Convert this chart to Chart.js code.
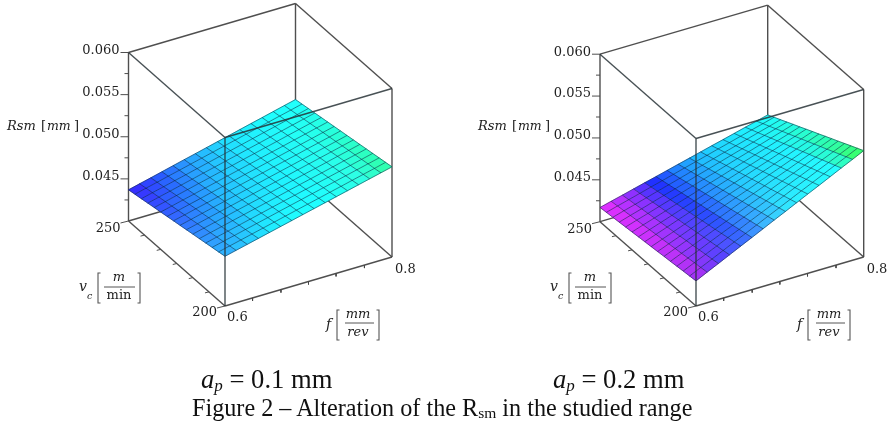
<!DOCTYPE html>
<html>
<head>
<meta charset="utf-8">
<title>Figure 2</title>
<script src="https://cdn.jsdelivr.net/npm/chart.js@4"></script>
<style>
    html, body { margin: 0; padding: 0; background: #fff; }
    #wrap { position: relative; width: 893px; height: 422px; overflow: hidden; }
    #plot { position: absolute; left: 0; top: 0; filter: blur(0.45px); }
    .cap { position: absolute; white-space: nowrap; color: #111; font-family: "Liberation Serif", serif; }
    .ap { font-size: 26.6px; top: 364px; }
    .ap sub { font-size: 17px; line-height: 0; vertical-align: -3px; }
    #figCap { font-size: 24.2px; top: 394px; left: 192px; }
    #figCap sub { font-size: 15.5px; line-height: 0; vertical-align: -2px; }
</style>
</head>
<body>
<div id="wrap">
    <canvas id="plot" width="893" height="422"></canvas>
    <div class="cap ap" style="left:201px"><i>a<sub>p</sub></i> = 0.1 mm</div>
    <div class="cap ap" style="left:553px"><i>a<sub>p</sub></i> = 0.2 mm</div>
    <div class="cap" id="figCap">Figure 2 – Alteration of the R<sub>sm</sub> in the studied range</div>
</div>
<script>
// axis ranges and ticks
const fRange = [0.6, 0.8];
const vcRange = [200, 250];
const zRange = [0.040, 0.060];
const zTicksMajor = [0.060, 0.055, 0.050, 0.045];
const zTicksMinor = [0.0575, 0.0525, 0.0475, 0.0425];
const zTickLabels = ['0.060', '0.055', '0.050', '0.045'];
const vcTicksMinor = [208.3, 216.7, 225, 233.3, 241.7];
const fTicksMinor = [0.633, 0.667, 0.7, 0.733, 0.767];

// mesh positions (f along a row, vc row by row)
const fGrid = [0.6, 0.6133, 0.6267, 0.64, 0.6533, 0.6667, 0.68, 0.6933, 0.7067, 0.72, 0.7333, 0.7467, 0.76, 0.7733, 0.7867, 0.8];
const vcGrid = [200, 203.33, 206.67, 210, 213.33, 216.67, 220, 223.33, 226.67, 230, 233.33, 236.67, 240, 243.33, 246.67, 250];

// Rsm read from the left surface, ap = 0.1 mm
const rsmLeft = [
    [.04590,.04622,.04654,.04686,.04718,.04750,.04782,.04814,.04846,.04878,.04910,.04942,.04974,.05006,.05038,.05070],
    [.04575,.04607,.04639,.04671,.04703,.04735,.04767,.04799,.04831,.04863,.04895,.04927,.04959,.04991,.05023,.05056],
    [.04561,.04593,.04625,.04657,.04689,.04721,.04754,.04786,.04818,.04850,.04882,.04914,.04946,.04978,.05010,.05042],
    [.04546,.04578,.04610,.04642,.04674,.04707,.04739,.04771,.04803,.04835,.04867,.04899,.04931,.04963,.04996,.05028],
    [.04531,.04563,.04595,.04628,.04660,.04692,.04724,.04756,.04789,.04821,.04853,.04885,.04917,.04950,.04982,.05014],
    [.04517,.04549,.04581,.04614,.04646,.04678,.04710,.04742,.04775,.04807,.04839,.04871,.04903,.04936,.04968,.05000],
    [.04502,.04534,.04567,.04599,.04631,.04663,.04696,.04728,.04760,.04792,.04825,.04857,.04889,.04921,.04954,.04986],
    [.04487,.04519,.04552,.04584,.04616,.04649,.04681,.04713,.04746,.04778,.04810,.04842,.04875,.04907,.04939,.04972],
    [.04473,.04505,.04538,.04570,.04602,.04635,.04667,.04699,.04732,.04764,.04796,.04828,.04861,.04893,.04925,.04958],
    [.04458,.04490,.04523,.04555,.04588,.04620,.04652,.04685,.04717,.04750,.04782,.04814,.04847,.04879,.04912,.04944],
    [.04443,.04475,.04508,.04540,.04573,.04605,.04638,.04670,.04703,.04735,.04768,.04800,.04833,.04865,.04898,.04930],
    [.04429,.04461,.04494,.04526,.04559,.04591,.04624,.04656,.04689,.04721,.04754,.04786,.04819,.04851,.04884,.04916],
    [.04414,.04447,.04479,.04512,.04544,.04577,.04609,.04642,.04674,.04707,.04739,.04772,.04804,.04837,.04869,.04902],
    [.04399,.04432,.04464,.04497,.04529,.04562,.04595,.04627,.04660,.04692,.04725,.04758,.04790,.04823,.04855,.04888],
    [.04385,.04418,.04450,.04483,.04515,.04548,.04581,.04613,.04646,.04678,.04711,.04744,.04776,.04809,.04841,.04874],
    [.04370,.04403,.04435,.04468,.04501,.04534,.04566,.04599,.04632,.04664,.04697,.04730,.04762,.04795,.04828,.04860]
];

// Rsm read from the right surface, ap = 0.2 mm
const rsmRight = [
    [.04300,.04365,.04429,.04494,.04559,.04623,.04688,.04753,.04817,.04882,.04947,.05011,.05076,.05141,.05205,.05270],
    [.04291,.04354,.04416,.04479,.04542,.04604,.04667,.04730,.04792,.04855,.04918,.04980,.05043,.05106,.05168,.05231],
    [.04283,.04344,.04404,.04465,.04526,.04586,.04647,.04708,.04768,.04829,.04890,.04950,.05011,.05072,.05132,.05193],
    [.04274,.04333,.04391,.04450,.04509,.04567,.04626,.04685,.04743,.04802,.04861,.04919,.04978,.05037,.05095,.05154],
    [.04265,.04322,.04378,.04435,.04492,.04548,.04605,.04662,.04718,.04775,.04832,.04888,.04945,.05002,.05058,.05115],
    [.04257,.04312,.04366,.04421,.04476,.04530,.04585,.04640,.04694,.04749,.04804,.04858,.04913,.04968,.05022,.05077],
    [.04248,.04301,.04353,.04406,.04459,.04511,.04564,.04617,.04669,.04722,.04775,.04827,.04880,.04933,.04985,.05038],
    [.04239,.04290,.04340,.04391,.04442,.04492,.04543,.04594,.04644,.04695,.04746,.04796,.04847,.04898,.04948,.04999],
    [.04231,.04280,.04328,.04377,.04426,.04474,.04523,.04572,.04620,.04669,.04718,.04766,.04815,.04864,.04912,.04961],
    [.04222,.04269,.04315,.04362,.04409,.04455,.04502,.04549,.04595,.04642,.04689,.04735,.04782,.04829,.04875,.04922],
    [.04213,.04258,.04302,.04347,.04392,.04436,.04481,.04526,.04570,.04615,.04660,.04704,.04749,.04794,.04838,.04883],
    [.04205,.04248,.04290,.04333,.04376,.04418,.04461,.04504,.04546,.04589,.04632,.04674,.04717,.04760,.04802,.04845],
    [.04196,.04237,.04277,.04318,.04359,.04399,.04440,.04481,.04521,.04562,.04603,.04643,.04684,.04725,.04765,.04806],
    [.04187,.04226,.04264,.04303,.04342,.04380,.04419,.04458,.04496,.04535,.04574,.04612,.04651,.04690,.04728,.04767],
    [.04179,.04216,.04252,.04289,.04326,.04362,.04399,.04436,.04472,.04509,.04546,.04582,.04619,.04656,.04692,.04729],
    [.04170,.04205,.04239,.04274,.04309,.04343,.04378,.04413,.04447,.04482,.04517,.04551,.04586,.04621,.04655,.04690]
];

// surface colours sampled along f, on the vc=200 edge and on the vc=250 edge
const shadeStops = [0, 0.15, 0.3, 0.45, 0.6, 0.85, 1];
const leftFront = [[48,176,255], [40,208,255], [32,240,255], [32,255,255], [32,255,255], [48,255,224], [48,255,160]];
const leftBack = [[58,32,255], [42,80,255], [42,144,255], [37,192,255], [32,232,255], [32,255,255], [32,255,255]];
const rightFront = [[176,48,240], [80,64,255], [64,120,255], [64,200,255], [48,245,255], [40,255,255], [64,255,48]];
const rightBack = [[240,48,255], [160,48,255], [32,48,255], [32,140,255], [32,200,255], [32,240,255], [32,255,255]];

// 3D view of each panel: pixel position of the corner f=0.6, vc=200, z=0.04 and the axis vectors
const leftView = { ox: 225, oy: 306, fv: [167, -49], vv: [-96.5, -85], zv: [0, -168.5], mix: 1 };
const rightView = { ox: 696, oy: 306, fv: [167.7, -49], vv: [-96, -84.3], zv: [0, -167.5], mix: 0.6 };

function project(view, f, vc, z) {
    const a = (f - fRange[0]) / (fRange[1] - fRange[0]);
    const b = (vc - vcRange[0]) / (vcRange[1] - vcRange[0]);
    const c = (z - zRange[0]) / (zRange[1] - zRange[0]);
    return {
        x: view.ox + a * view.fv[0] + b * view.vv[0],
        y: view.oy + a * view.fv[1] + b * view.vv[1] + c * view.zv[1]
    };
}

function sampleStops(colors, a) {
    let k = 0;
    while (k < shadeStops.length - 2 && a > shadeStops[k + 1]) k++;
    const t = (a - shadeStops[k]) / (shadeStops[k + 1] - shadeStops[k]);
    return colors[k].map((v, n) => v + t * (colors[k + 1][n] - v));
}

// colour of a cell from its place on the surface
function colorFor(front, back, f, vc, mix) {
    const a = (f - fRange[0]) / (fRange[1] - fRange[0]);
    const b = Math.pow((vc - vcRange[0]) / (vcRange[1] - vcRange[0]), mix);
    const c0 = sampleStops(front, a);
    const c1 = sampleStops(back, a);
    const c = c0.map((v, n) => Math.round(v + b * (c1[n] - v)));
    return `rgb(${c[0]},${c[1]},${c[2]})`;
}

function lineSet(points, color, width, order) {
    return {
        type: 'line', data: points, borderColor: color, borderWidth: width, order: order,
        pointRadius: 0, tension: 0, fill: false, clip: false
    };
}

function panelDatasets(view, rsm, frontColors, backColors) {
    const sets = [];
    const edge = 'rgba(70,70,70,0.95)';
    const front = 'rgba(40,50,55,0.85)';
    const [f0, f1] = fRange;
    const [v0, v1] = vcRange;
    const [z0, z1] = zRange;
    const P = (f, v, z) => project(view, f, v, z);

    // back edges, the surface covers them
    const backEdges = [
        [P(f0, v0, z0), P(f1, v0, z0)], [P(f0, v0, z0), P(f0, v1, z0)],
        [P(f0, v1, z0), P(f1, v1, z0)], [P(f1, v1, z0), P(f1, v0, z0)],
        [P(f0, v1, z0), P(f0, v1, z1)], [P(f1, v0, z0), P(f1, v0, z1)],
        [P(f1, v1, z0), P(f1, v1, z1)], [P(f0, v1, z1), P(f1, v1, z1)],
        [P(f1, v1, z1), P(f1, v0, z1)]
    ];
    backEdges.forEach(e => sets.push(lineSet(e, edge, 1.4, 3)));

    // axis ticks
    zTicksMajor.forEach(z => {
        const p = P(f0, v1, z);
        sets.push(lineSet([p, { x: p.x - 8, y: p.y }], edge, 1, 3));
    });
    zTicksMinor.forEach(z => {
        const p = P(f0, v1, z);
        sets.push(lineSet([p, { x: p.x - 4, y: p.y }], edge, 1, 3));
    });
    vcRange.forEach(v => {
        const p = P(f0, v, z0);
        sets.push(lineSet([p, { x: p.x - 8, y: p.y + 2 }], edge, 1, 3));
    });
    vcTicksMinor.forEach(v => {
        const p = P(f0, v, z0);
        sets.push(lineSet([p, { x: p.x - 4, y: p.y + 1 }], edge, 1, 3));
    });
    fTicksMinor.forEach(f => {
        const p = P(f, v0, z0);
        sets.push(lineSet([p, { x: p.x, y: p.y + 3 }], edge, 1, 3));
    });

    // surface cells
    for (let j = 0; j < vcGrid.length - 1; j++) {
        for (let i = 0; i < fGrid.length - 1; i++) {
            const col = colorFor(frontColors, backColors, (fGrid[i] + fGrid[i + 1]) / 2, (vcGrid[j] + vcGrid[j + 1]) / 2, view.mix);
            sets.push({
                type: 'line',
                data: [
                    P(fGrid[i], vcGrid[j], rsm[j][i]), P(fGrid[i + 1], vcGrid[j], rsm[j][i + 1]),
                    P(fGrid[i + 1], vcGrid[j + 1], rsm[j + 1][i + 1]), P(fGrid[i], vcGrid[j + 1], rsm[j + 1][i]),
                    P(fGrid[i], vcGrid[j], rsm[j][i])
                ],
                borderColor: col, backgroundColor: col, borderWidth: 0.6, fill: 'shape',
                pointRadius: 0, tension: 0, order: 2, clip: false
            });
        }
    }

    // mesh lines
    const mesh = 'rgba(0,30,55,0.58)';
    vcGrid.forEach((v, j) => sets.push(lineSet(fGrid.map((f, i) => P(f, v, rsm[j][i])), mesh, 0.9, 1)));
    fGrid.forEach((f, i) => sets.push(lineSet(vcGrid.map((v, j) => P(f, v, rsm[j][i])), mesh, 0.9, 1)));

    // front edges run over the surface
    const frontEdges = [
        [P(f0, v0, z0), P(f0, v0, z1)], [P(f0, v0, z1), P(f1, v0, z1)], [P(f0, v0, z1), P(f0, v1, z1)]
    ];
    frontEdges.forEach(e => sets.push(lineSet(e, front, 1.4, 0)));
    return sets;
}

// tick labels and axis titles, written relative to the front corner of each panel
const textPlugin = {
    id: 'panelText',
    afterDraw(chart) {
        const ctx = chart.ctx;
        const sx = chart.scales.x;
        const sy = chart.scales.y;
        const serif = '"DejaVu Serif", serif';
        const put = (s, x, y, font, align) => {
            ctx.font = font;
            ctx.textAlign = align || 'left';
            ctx.textBaseline = 'middle';
            ctx.fillStyle = '#222';
            ctx.fillText(s, sx.getPixelForValue(x), sy.getPixelForValue(y));
        };
        const bracket = (x, y0, y1, dir) => {
            ctx.strokeStyle = '#555';
            ctx.lineWidth = 1.1;
            ctx.beginPath();
            ctx.moveTo(x + dir * 2.5, y0);
            ctx.lineTo(x, y0);
            ctx.lineTo(x, y1);
            ctx.lineTo(x + dir * 2.5, y1);
            ctx.stroke();
        };
        const bar = (x0, x1, y) => {
            ctx.strokeStyle = '#555';
            ctx.lineWidth = 1;
            ctx.beginPath();
            ctx.moveTo(x0, y);
            ctx.lineTo(x1, y);
            ctx.stroke();
        };
        [leftView, rightView].forEach(view => {
            const X = view.ox;
            const Y = view.oy;
            const reg = '13px ' + serif;
            const ital = 'italic 13px ' + serif;
            zTicksMajor.forEach((z, n) => {
                const p = project(view, fRange[0], vcRange[1], z);
                put(zTickLabels[n], p.x - 9, p.y - 2, reg, 'right');
            });
            const c = project(view, fRange[0], vcRange[1], zRange[0]);
            const b = project(view, fRange[1], vcRange[0], zRange[0]);
            put(String(vcRange[1]), c.x - 8, c.y + 8, reg, 'right');
            put(String(vcRange[0]), X - 8, Y + 7, reg, 'right');
            put(fRange[0].toFixed(1), X + 2, Y + 12, reg);
            put(fRange[1].toFixed(1), b.x + 3, b.y + 13, reg);

            // Rsm [mm]
            put('Rsm', X - 218, Y - 179, ital);
            put('[', X - 184, Y - 179, '13px ' + serif);
            put('mm', X - 178, Y - 179, 'italic 12.5px ' + serif);
            put(']', X - 151, Y - 179, '13px ' + serif);

            // vc [m/min]
            put('v', X - 146, Y - 19, 'italic 14px ' + serif);
            put('c', X - 138, Y - 9, 'italic 9.5px ' + serif);
            bracket(X - 127, Y - 33, Y - 3, 1);
            put('m', X - 106, Y - 28, ital, 'center');
            bar(X - 121, X - 90, Y - 19);
            put('min', X - 106, Y - 10, reg, 'center');
            bracket(X - 85, Y - 33, Y - 3, -1);

            // f [mm/rev]
            put('f', X + 101, Y + 19, 'italic 14px ' + serif);
            bracket(X + 112, Y + 4, Y + 34, 1);
            put('mm', X + 133, Y + 9, ital, 'center');
            bar(X + 120, X + 149, Y + 17);
            put('rev', X + 133, Y + 27, ital, 'center');
            bracket(X + 154, Y + 4, Y + 34, -1);
        });
    }
};

document.addEventListener('DOMContentLoaded', function () {
    const ctx = document.getElementById('plot').getContext('2d');
    new Chart(ctx, {
        type: 'line',
        data: {
            datasets: panelDatasets(leftView, rsmLeft, leftFront, leftBack)
                .concat(panelDatasets(rightView, rsmRight, rightFront, rightBack))
        },
        options: {
            responsive: false,
            animation: false,
            events: [],
            layout: { padding: 0 },
            plugins: { legend: { display: false }, tooltip: { enabled: false } },
            scales: {
                x: { type: 'linear', min: 0, max: 893, display: false },
                y: { type: 'linear', min: 0, max: 422, reverse: true, display: false }
            }
        },
        plugins: [textPlugin]
    });
});
</script>
</body>
</html>
